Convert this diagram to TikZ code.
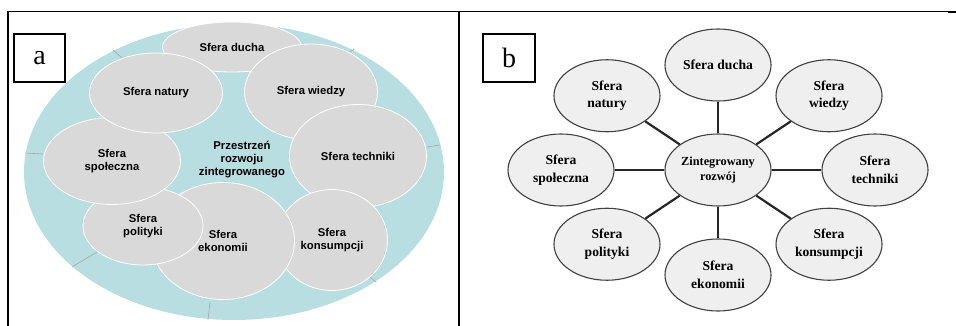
\documentclass[tikz,border=0pt]{standalone}
\usepackage{fontspec}
\setmainfont{Liberation Serif}
\newfontfamily\sferasans{Liberation Sans}
\usetikzlibrary{shapes.geometric}
\definecolor{przestrzen}{HTML}{B8DEE2}
\definecolor{sferaszara}{HTML}{D9D9D9}
\definecolor{sferajasna}{HTML}{EFEFEF}

\begin{document}
\begin{tikzpicture}[x=1pt,y=-1pt]
    \useasboundingbox (0,0) rectangle (956,326);

    % ramka
    \draw[line width=1.3pt] (7,11.5) -- (472,11.5);
    \draw[line width=1pt] (472,11.2) -- (948,11.2);
    \draw[line width=2pt] (948,12) -- (956,12);
    \draw[line width=2pt] (7.5,11) -- (7.5,326);
    \draw[line width=2pt] (459,11) -- (459,326);

    % a
    \fill[przestrzen] (234,172) ellipse [x radius=210, y radius=148];
    \foreach \p/\q in {{(113,50)}/{(122,58)},{(350,52)}/{(354,49)},{(25,153)}/{(43,154)},
                       {(427,147)}/{(440,145)},{(72,267)}/{(97,252)},{(210,302)}/{(208,320)},
                       {(370,277)}/{(376,282)}}{
        \draw[gray!70,line width=0.6pt] \p -- \q;
    }

    \begin{scope} [every node/.style={ellipse,fill=sferaszara,draw=white,line width=0.8pt,
            inner sep=0pt,align=center,font=\sferasans\bfseries\fontsize{11.3}{13}\selectfont}]
        \node[minimum width=139pt,minimum height=50pt] (ducha) at (232,47) {Sfera ducha};
        \node[minimum width=133pt,minimum height=96pt] (wiedzy) at (311,92) {Sfera wiedzy};
        \node[minimum width=137pt,minimum height=103pt] (techniki) at (358,156) {Sfera techniki};
        \node[minimum width=111pt,minimum height=101pt] (konsumpcji) at (332,240) {Sfera\\konsumpcji};
        \node[minimum width=143pt,minimum height=117pt] (ekonomii) at (223,241) {Sfera\\ekonomii};
        \node[minimum width=120pt,minimum height=78pt] (polityki) at (143,226) {Sfera\\polityki};
        \node[minimum width=137pt,minimum height=87pt] (spoleczna) at (112,161) {Sfera\\społeczna};
        \node[minimum width=133pt,minimum height=80pt] (natury) at (156,93) {Sfera natury};
    \end{scope}
    \node[align=center,font=\sferasans\bfseries\fontsize{11.3}{13}\selectfont] (rozwoj) at (242,160)
        {Przestrzeń\\rozwoju\\zintegrowanego};

    \node[draw,line width=2pt,minimum width=51pt,minimum height=48pt,font=\fontsize{28}{30}\selectfont]
        (etykietaA) at (39.5,58) {a};

    % b
    \begin{scope} [every node/.style={ellipse,fill=sferajasna,draw=black!75,line width=1.1pt,
            inner sep=0pt,align=center,minimum width=106pt,minimum height=72pt,
            font=\bfseries\fontsize{13.6}{17.7}\selectfont}]
        \node[font=\bfseries\fontsize{12.3}{15}\selectfont] (zint) at (718,170) {Zintegrowany\\rozwój};
        \foreach \a/\t/\n in {-90/{Sfera ducha}/bducha, -45/{Sfera\\wiedzy}/bwiedzy,
                              0/{Sfera\\techniki}/btechniki, 45/{Sfera\\konsumpcji}/bkonsumpcji,
                              90/{Sfera\\ekonomii}/bekonomii, 135/{Sfera\\polityki}/bpolityki,
                              180/{Sfera\\społeczna}/bspoleczna, 225/{Sfera\\natury}/bnatury}{
            \node (\n) at ([shift={(718,170)}]\a:157 and 105) {\t};
        }
    \end{scope}

    \begin{scope}[every edge/.style={draw=black!85,line width=2.2pt}]
        \foreach \n in {bducha,bwiedzy,btechniki,bkonsumpcji,bekonomii,bpolityki,bspoleczna,bnatury}{
            \path (zint) edge (\n);
        }
    \end{scope}

    \node[draw,line width=2pt,minimum width=52pt,minimum height=48pt,font=\fontsize{28}{30}\selectfont]
        (etykietaB) at (509,58) {b};
\end{tikzpicture}
\end{document}
